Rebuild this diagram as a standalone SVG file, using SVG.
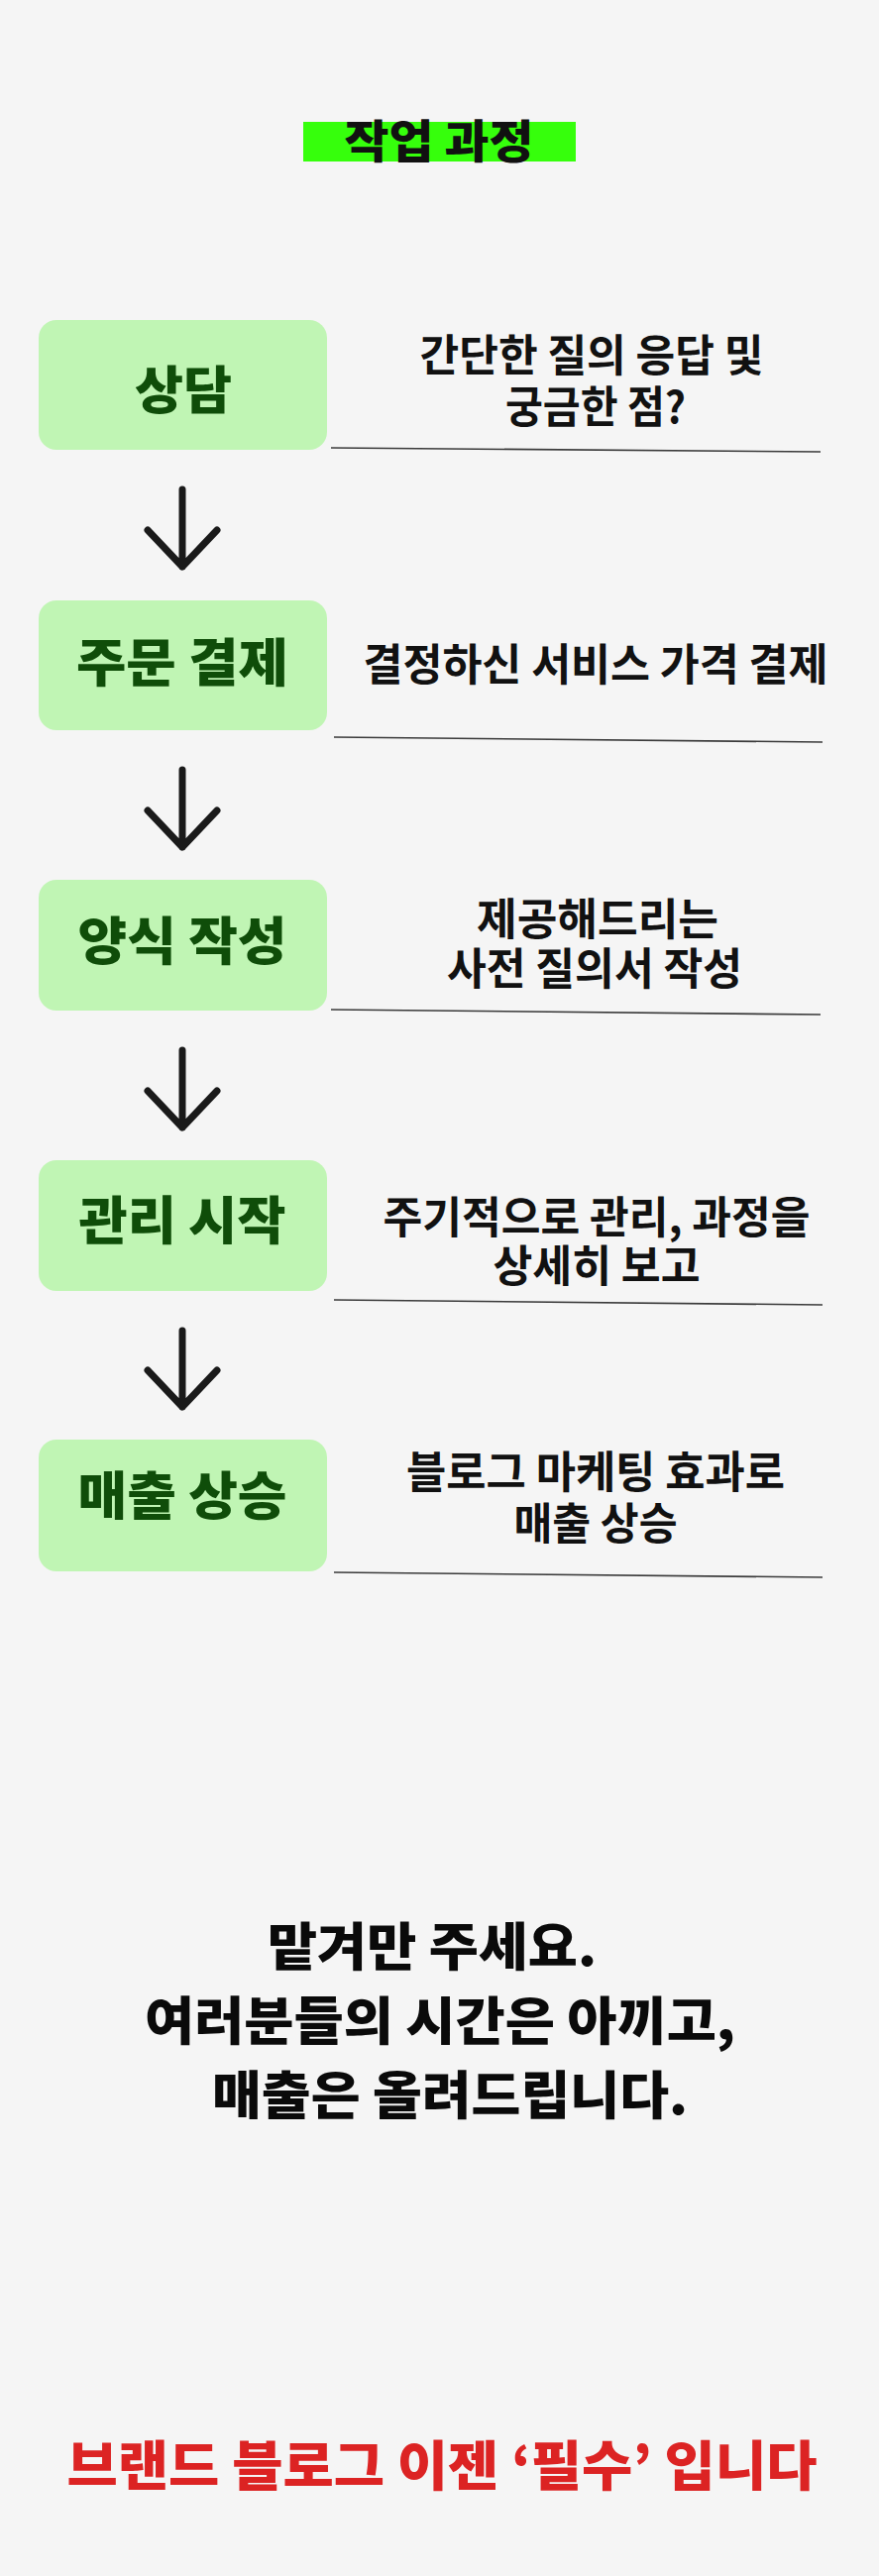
<svg xmlns="http://www.w3.org/2000/svg" width="887" height="2600" viewBox="0 0 887 2600">
<style>
.bg{fill:#f5f5f5}
.box{fill:#c0f5b4}
.bt{font-family:"Noto Sans CJK KR","Noto Sans",sans-serif;font-weight:900;font-size:52px;fill:#0f4d09;text-anchor:middle}
.dt{font-family:"Noto Sans CJK KR","Noto Sans",sans-serif;font-weight:700;font-size:44px;fill:#111;text-anchor:middle}
.ft{font-family:"Noto Sans CJK KR","Noto Sans",sans-serif;font-weight:900;font-size:52px;fill:#0a0a0a;text-anchor:middle}
.rt{font-family:"Noto Sans CJK KR","Noto Sans",sans-serif;font-weight:900;font-size:54px;fill:#dc2323;text-anchor:middle}
.ul{stroke:#3a3a3a;stroke-width:1.6;fill:none}
.ar{stroke:#1a1a1a;stroke-width:7;fill:none;stroke-linecap:round;stroke-linejoin:round}
</style>
<rect class="bg" x="0" y="0" width="887" height="2600"/>
<g id="title">
<rect x="306" y="123" width="275" height="40" fill="#36ff0c"/>
<text x="443" y="159" font-family="'Noto Sans CJK KR','Noto Sans',sans-serif" font-weight="900" font-size="46" fill="#111" text-anchor="middle" textLength="191" lengthAdjust="spacingAndGlyphs">작업 과정</text>
</g>
<g id="step1">
<rect class="box" x="39" y="323" width="291" height="131" rx="18"/>
<text class="bt" x="185" y="413" textLength="98" lengthAdjust="spacingAndGlyphs">상담</text>
</g>
<g id="desc1">
<text class="dt"><tspan x="597" y="375" textLength="347" lengthAdjust="spacingAndGlyphs">간단한 질의 응답 및</tspan><tspan x="601" y="427" textLength="182" lengthAdjust="spacingAndGlyphs">궁금한 점?</tspan></text>
</g>
<g id="step2">
<rect class="box" x="39" y="606" width="291" height="131" rx="18"/>
<text class="bt" x="184" y="688" textLength="214" lengthAdjust="spacingAndGlyphs">주문 결제</text>
</g>
<g id="desc2">
<text class="dt" x="601" y="687" textLength="469" lengthAdjust="spacingAndGlyphs">결정하신 서비스 가격 결제</text>
</g>
<g id="step3">
<rect class="box" x="39" y="888" width="291" height="132" rx="18"/>
<text class="bt" x="184" y="969" textLength="211" lengthAdjust="spacingAndGlyphs">양식 작성</text>
</g>
<g id="desc3">
<text class="dt"><tspan x="603" y="944" textLength="244" lengthAdjust="spacingAndGlyphs">제공해드리는</tspan><tspan x="600" y="994" textLength="298" lengthAdjust="spacingAndGlyphs">사전 질의서 작성</tspan></text>
</g>
<g id="step4">
<rect class="box" x="39" y="1171" width="291" height="132" rx="18"/>
<text class="bt" x="184" y="1251" textLength="209" lengthAdjust="spacingAndGlyphs">관리 시작</text>
</g>
<g id="desc4">
<text class="dt"><tspan x="602" y="1245" textLength="431" lengthAdjust="spacingAndGlyphs">주기적으로 관리, 과정을</tspan><tspan x="602" y="1294" textLength="209" lengthAdjust="spacingAndGlyphs">상세히 보고</tspan></text>
</g>
<g id="step5">
<rect class="box" x="39" y="1453" width="291" height="133" rx="18"/>
<text class="bt" x="184" y="1529" textLength="211" lengthAdjust="spacingAndGlyphs">매출 상승</text>
</g>
<g id="desc5">
<text class="dt"><tspan x="601" y="1502" textLength="382" lengthAdjust="spacingAndGlyphs">블로그 마케팅 효과로</tspan><tspan x="601" y="1554" textLength="165" lengthAdjust="spacingAndGlyphs">매출 상승</tspan></text>
</g>
<g id="connectors">
<line class="ul" x1="334" y1="452" x2="828" y2="456"/>
<line class="ul" x1="337" y1="744" x2="830" y2="749"/>
<line class="ul" x1="334" y1="1019" x2="828" y2="1024"/>
<line class="ul" x1="337" y1="1312" x2="830" y2="1317"/>
<line class="ul" x1="337" y1="1587" x2="830" y2="1592"/>
<path class="ar" d="M184 494 V572 M149 535 L184 572 L219 535"/>
<path class="ar" d="M184 777 V855 M149 818 L184 855 L219 818"/>
<path class="ar" d="M184 1060 V1138 M149 1101 L184 1138 L219 1101"/>
<path class="ar" d="M184 1343 V1420 M149 1383 L184 1420 L219 1383"/>
</g>
<g id="closing">
<text class="ft"><tspan x="436" y="1984" textLength="332" lengthAdjust="spacingAndGlyphs">맡겨만 주세요.</tspan><tspan x="444" y="2059" textLength="596" lengthAdjust="spacingAndGlyphs">여러분들의 시간은 아끼고,</tspan><tspan x="454" y="2134" textLength="480" lengthAdjust="spacingAndGlyphs">매출은 올려드립니다.</tspan></text>
</g>
<g id="footer">
<text class="rt" x="446" y="2509" textLength="757" lengthAdjust="spacingAndGlyphs">브랜드 블로그 이젠 ‘필수’ 입니다</text>
</g>
</svg>
